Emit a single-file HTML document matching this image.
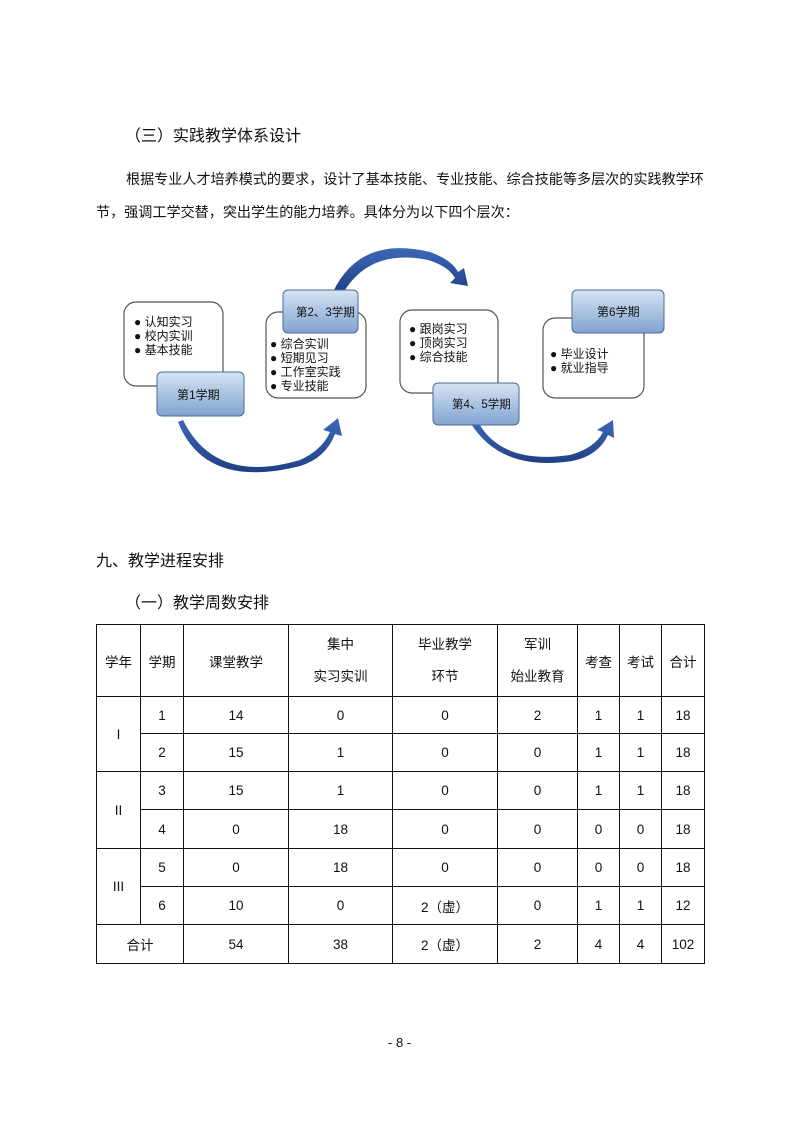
<!DOCTYPE html>
<html><head><meta charset="utf-8">
<style>
body{margin:0;background:#fff;}
.pg{position:relative;width:800px;height:1131px;overflow:hidden;font-family:"Liberation Sans","Noto Sans CJK SC",sans-serif;color:#111;}
.t{position:absolute;white-space:nowrap;}
.h{font-size:16px;}
.p{font-size:14.1px;}
table{position:absolute;left:96px;top:624px;border-collapse:collapse;font-size:13.5px;table-layout:fixed;}
td{border:1.3px solid #111;text-align:center;padding:0;}
</style></head><body><div class="pg">
<div class="t h" style="left:125px;top:122px;">（三）实践教学体系设计</div>
<div class="t p" style="left:126px;top:169px;">根据专业人才培养模式的要求，设计了基本技能、专业技能、综合技能等多层次的实践教学环</div>
<div class="t p" style="left:96px;top:202px;">节，强调工学交替，突出学生的能力培养。具体分为以下四个层次：</div>

<svg style="position:absolute;left:0;top:0" width="800" height="500" font-family="Liberation Sans, Noto Sans CJK SC, sans-serif" font-size="12">
<defs>
<linearGradient id="g" x1="0" y1="0" x2="0" y2="1"><stop offset="0" stop-color="#d7e4f3"/><stop offset="1" stop-color="#7fa3d0"/></linearGradient>
<linearGradient id="a" x1="0" y1="0" x2="0" y2="1"><stop offset="0" stop-color="#3d68b8"/><stop offset="1" stop-color="#1f3f86"/></linearGradient>
</defs>
<path d="M183,420 Q215,485 300,460 Q322,450 330,432 L323,430 L338,418 L342,436 L335,434 Q326,458 300,466 Q205,490 178,422 Z" fill="url(#a)"/>
<path d="M333,292 Q360,235 430,252 Q452,260 458,272 L464,268 L468,286 L450,283 L455,278 Q448,266 428,260 Q370,248 343,293 Z" fill="url(#a)"/>
<path d="M477,420 Q500,465 570,455 Q595,448 603,432 L597,430 L613,420 L614,438 L608,435 Q598,456 572,461 Q500,472 470,422 Z" fill="url(#a)"/>
<g stroke="#555" stroke-width="1.2" fill="#fff">
<rect x="124" y="302" width="99" height="84" rx="12"/>
<rect x="266" y="312" width="100" height="86" rx="12"/>
<rect x="400" y="310" width="98" height="83" rx="12"/>
<rect x="543" y="318" width="101" height="80" rx="12"/>
</g>
<g stroke="#4a6a9a" stroke-width="1" fill="url(#g)">
<rect x="157" y="372" width="87" height="44" rx="5"/>
<rect x="283" y="290" width="75" height="43" rx="5"/>
<rect x="433" y="383" width="86" height="42" rx="5"/>
<rect x="572" y="290" width="92" height="43" rx="5"/>
</g>
<g fill="#111">
<text x="177" y="399">第1学期</text>
<text x="296" y="316" font-size="11.5">第2、3学期</text>
<text x="452" y="408" font-size="11.5">第4、5学期</text>
<text x="597" y="316">第6学期</text>
<text x="134" y="326">● 认知实习</text>
<text x="134" y="340">● 校内实训</text>
<text x="134" y="354">● 基本技能</text>
<text x="270" y="348">● 综合实训</text>
<text x="270" y="362">● 短期见习</text>
<text x="270" y="376">● 工作室实践</text>
<text x="270" y="390">● 专业技能</text>
<text x="409" y="333">● 跟岗实习</text>
<text x="409" y="347">● 顶岗实习</text>
<text x="409" y="361">● 综合技能</text>
<text x="550" y="358">● 毕业设计</text>
<text x="550" y="372">● 就业指导</text>
</g>
</svg>

<div class="t h" style="left:96px;top:547px;">九、教学进程安排</div>
<div class="t h" style="left:125px;top:589px;">（一）教学周数安排</div>

<table>
<colgroup><col style="width:44px"><col style="width:43px"><col style="width:105px"><col style="width:104px"><col style="width:105px"><col style="width:80px"><col style="width:42px"><col style="width:42px"><col style="width:43px"></colgroup>
<tr style="height:72px"><td>学年</td><td>学期</td><td>课堂教学</td><td style="line-height:32px">集中<br>实习实训</td><td style="line-height:32px">毕业教学<br>环节</td><td style="line-height:32px">军训<br>始业教育</td><td>考查</td><td>考试</td><td>合计</td></tr>
<tr style="height:37px"><td rowspan="2">I</td><td>1</td><td>14</td><td>0</td><td>0</td><td>2</td><td>1</td><td>1</td><td>18</td></tr>
<tr style="height:38px"><td>2</td><td>15</td><td>1</td><td>0</td><td>0</td><td>1</td><td>1</td><td>18</td></tr>
<tr style="height:38px"><td rowspan="2">II</td><td>3</td><td>15</td><td>1</td><td>0</td><td>0</td><td>1</td><td>1</td><td>18</td></tr>
<tr style="height:39px"><td>4</td><td>0</td><td>18</td><td>0</td><td>0</td><td>0</td><td>0</td><td>18</td></tr>
<tr style="height:38px"><td rowspan="2">III</td><td>5</td><td>0</td><td>18</td><td>0</td><td>0</td><td>0</td><td>0</td><td>18</td></tr>
<tr style="height:38px"><td>6</td><td>10</td><td>0</td><td>2（虚）</td><td>0</td><td>1</td><td>1</td><td>12</td></tr>
<tr style="height:39px"><td colspan="2">合计</td><td>54</td><td>38</td><td>2（虚）</td><td>2</td><td>4</td><td>4</td><td>102</td></tr>
</table>

<div class="t" style="left:388px;top:1035px;font-size:13px;">- 8 -</div>
</div></body></html>
